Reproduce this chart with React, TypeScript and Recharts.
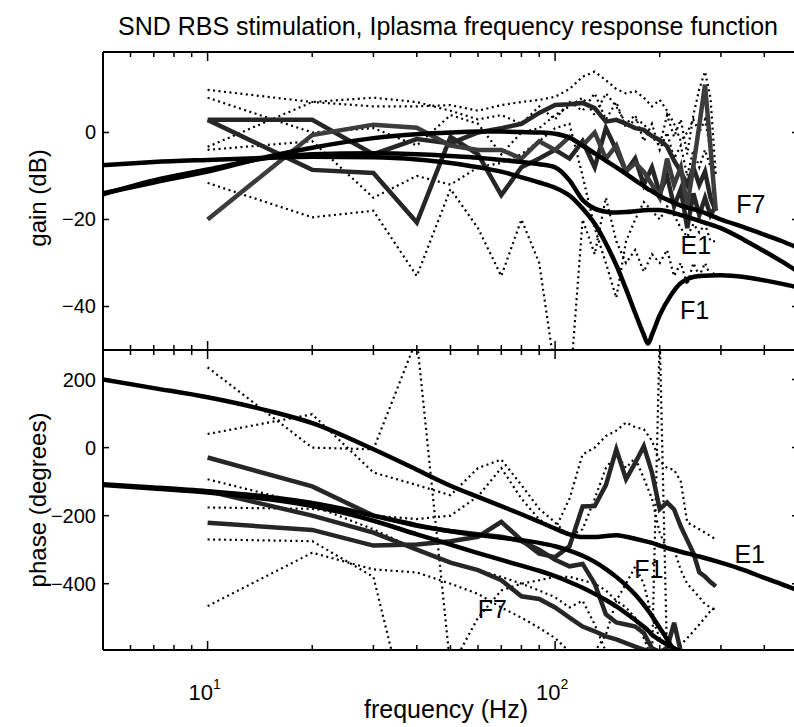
import React from "react";
import { LineChart, Line, XAxis, YAxis, ReferenceDot } from "recharts";

// measured frequencies (Hz) for the data traces
const freq = [10, 20, 30, 40, 50, 60, 70, 80, 90, 100, 110, 120, 130, 140, 150, 160, 170, 180, 190, 200, 210, 220, 230, 240, 250, 260, 270, 280, 290];
// model fit frequencies (Hz)
const fitFreq = [5, 7, 10, 15, 20, 30, 40, 50, 60, 70, 80, 90, 100, 110, 120, 130, 140, 150, 160, 170, 180, 185, 190, 200, 215, 230, 260, 300, 350, 400, 450, 500];

// gain (dB) data traces
const gainA = [2.9, 2.9, -5, -1.5, -2.5, 0, 1, 2, 4.5, 6.3, 6.5, 6.8, 5.6, 2.5, 2.9, 2, 1, 0.6, -0.8, -1.7, -3.2, -6.5, -9, -12, -8, -12, -9, -15, -18];
const gainB = [2.9, -8.6, -9.3, -20.7, -1, -5, -14.4, -8, -6, -4, -6, -2, -8, 1, -4, -9, -6, -12, -8, -14, -10, -17, -13, -22, -14, -19, -15, -19, -17];
const gainC = [-20, -0.6, 1.8, 1.1, -3, -4, -4, -6, -2, -4, -1, -3, 0, -6, -3, -9, -7, -9, -12, -15, -6, -12, -8, -17, -7.7, 1.7, 11, -3.5, -18];
// gain confidence bounds
const gainAUp = [9.8, 7, 6, 6, 6.3, 5, 6.3, 7, 7.5, 8.2, 10, 12.8, 14, 12, 10, 9, 9.5, 8, 6, 7.5, 5, 2, -2, 0, 3, 0, 3, -4, -10];
const gainALo = [-4, -2, -15, -10, -12, -8, -7, -5, -2, 1, 2, -10, -22, -30, -38, -25, -20, -16, -18, -20, -17, -19, -22, -24, -21, -23, -21, -25, -25];
const gainBUp = [8, 0, 1, -3, 4, 2, -5, 0, 1, 4, 6, 8, 4, 9, 6, 2, 4, -2, 2, -4, 0, -6, -3, -10, -4, -8, -4, -8, -7];
const gainBLo = [-11.6, -19.5, -18, -33, -13, -22, -33, -20, -30, -55, -60, -20, -28, -15, -25, -30, -27, -32, -28, -30, -27, -33, -30, -35, -30, -33, -30, -33, -32];
const gainCUp = [-3.3, 7, 8, 7, 5, 3, 4, 2, 6, 3, 7, 5, 9, 3, 7, 1, 3, 2, -1, -3, 4, -1, 3, -5, 4, 10, 14, 8, -10];

// gain model fits
const fitGainF1 = [-7.5, -6.8, -6.3, -5.8, -5.6, -5.7, -6.2, -7, -8, -9, -10.3, -11.5, -12.7, -14.5, -17.5, -21, -25.5, -30.5, -36, -41.5, -46.5, -48.5, -46.5, -42, -37.5, -34.6, -33, -32.8, -33.2, -34, -34.8, -35.6];
const fitGainE1 = [-14, -11.5, -9, -5.5, -3.5, -1.3, -0.4, 0, 0.2, 0.2, 0.1, 0, -0.3, -1.2, -3, -4.8, -6.5, -8, -9.5, -11, -12.3, -13, -13.5, -14.6, -15.8, -16.8, -18, -20, -21.8, -23.5, -25, -26.5];
const fitGainF7 = [-14.2, -11, -8.5, -5.8, -5, -4.8, -5, -5.4, -5.8, -6.3, -6.8, -7.3, -8, -11, -15.5, -17.5, -18.2, -18.4, -18.3, -18.1, -17.9, -17.8, -17.8, -17.8, -18.3, -19, -20.3, -22, -24.7, -27.3, -29.7, -32];

// phase (degrees) data traces
const phaseA = [-29, -114, -200, -230, -245, -255, -262, -275, -300, -330, -349, -342, -400, -490, -514, -520, -526, -545, -590, -600, -590, -515, -600, -640, -680, -700, -700, -700, -700];
const phaseB = [-128, -200, -250, -300, -338, -360, -390, -437, -445, -470, -500, -526, -540, -555, -564, -575, -585, -594, -600, -610, -630, -650, -660, -670, -680, -690, -700, -700, -700];
const phaseC = [-221, -242, -288, -285, -275, -262, -218, -272, -312, -322, -290, -173, -172, -110, -5, -93, -45, 4, -73, -181, -161, -182, -232, -272, -310, -367, -379, -395, -408];
// phase confidence bounds
const phaseAUp = [40, 98, -73, -110, -140, -60, -35, -110, -180, -220, -261, -240, -150, -60, -20, -60, -30, -90, -150, -250, -300, -300, -360, -400, -420, -440, -460, -470, -480];
const phaseALo = [-93, -170, -240, -300, -340, -360, -380, -400, -420, -440, -470, -450, -520, -600, -650, -700, -700, -700, -700, -700, -700, -700, -700, -700, -700, -700, -700, -700, -700];
const phaseBUp = [236, 0, -5, 320, -650, -500, -420, -400, -390, -380, -380, -390, -400, -420, -450, -470, -500, -560, -620, 330, -620, -600, -580, -560, -540, -520, -500, -480, -470];
const phaseBLo = [-466, -309, -358, -367, -400, -430, -470, -500, -530, -560, -600, -650, -700, -700, -700, -700, -700, -700, -700, -700, -700, -700, -700, -700, -700, -700, -700, -700, -700];
const phaseCUp = [-176, -180, -200, -210, -200, -143, -60, -150, -211, -240, -150, -20, 0, 34, 50, 74, 60, 54, 20, -40, -60, -65, -100, -220, -230, -240, -250, -260, -270];
const phaseCLo = [-270, -275, -380, -900, -700, -700, -700, -700, -700, -700, -700, -650, -600, -550, -450, -400, -350, -400, -500, -560, -600, -620, -650, -700, -700, -700, -700, -700, -700];

// phase model fits
const fitPhaseE1 = [200, 175, 148, 108, 72, -5, -65, -112, -145, -172, -196, -218, -238, -255, -263, -263, -260, -258, -262, -268, -274, -277, -280, -288, -298, -306, -320, -338, -360, -383, -402, -420];
const fitPhaseF1 = [-108, -117, -128, -145, -163, -200, -228, -246, -257, -265, -272, -280, -290, -303, -318, -336, -357, -380, -405, -432, -462, -478, -495, -530, -580, -630, -700, -760, -800, -840, -870, -900];
const fitPhaseF7 = [-110, -120, -132, -152, -172, -215, -255, -285, -310, -330, -347, -362, -378, -395, -412, -430, -448, -467, -487, -507, -527, -537, -550, -566, -585, -600, -640, -700, -760, -820, -870, -920];

const xTicks = [5, 6, 7, 8, 9, 10, 20, 30, 40, 50, 60, 70, 80, 90, 100, 200, 300, 400, 500];
const gainTicks = [-40, -20, 0];
const phaseTicks = [-400, -200, 0, 200];

const dataRows = freq.map((f, i) => ({
  f,
  gA: gainA[i], gB: gainB[i], gC: gainC[i],
  gAU: gainAUp[i], gAL: gainALo[i], gBU: gainBUp[i], gBL: gainBLo[i], gCU: gainCUp[i],
  pA: phaseA[i], pB: phaseB[i], pC: phaseC[i],
  pAU: phaseAUp[i], pAL: phaseALo[i], pBU: phaseBUp[i], pBL: phaseBLo[i], pCU: phaseCUp[i], pCL: phaseCLo[i],
}));
const fitRows = fitFreq.map((f, i) => ({
  f,
  gF1: fitGainF1[i], gE1: fitGainE1[i], gF7: fitGainF7[i],
  pF1: fitPhaseF1[i], pE1: fitPhaseE1[i], pF7: fitPhaseF7[i],
}));

const FONT = "'Liberation Sans', Arial, Helvetica, sans-serif";
const fmt = (v: number) => (v < 0 ? "\u2212" + Math.abs(v) : String(v));

const XTick = ({ x, y, payload, dir, label }: any) => {
  const v = payload.value;
  const major = v === 10 || v === 100;
  const len = major ? 9 : 5;
  return (
    <g>
      <line x1={x} x2={x} y1={y} y2={y + dir * len} stroke="#000" strokeWidth={1.5} />
      {label && major && (
        <text x={x - 3} y={y + 50} textAnchor="middle" fontSize={22} fontFamily={FONT} fill="#000">
          10
          <tspan dy={-11} fontSize={14}>
            {v === 10 ? "1" : "2"}
          </tspan>
        </text>
      )}
    </g>
  );
};

const YTick = ({ x, y, payload, dir, label }: any) => (
  <g>
    <line x1={x} x2={x + dir * 6} y1={y} y2={y} stroke="#000" strokeWidth={1.5} />
    {label && (
      <text x={x - 7} y={y + 7} textAnchor="end" fontSize={20} fontFamily={FONT} fill="#000">
        {fmt(payload.value)}
      </text>
    )}
  </g>
);

const axisLine = { stroke: "#000", strokeWidth: 2 };
const dotted = { stroke: "#000", strokeWidth: 2.2, strokeDasharray: "2 3.5", dot: false, isAnimationActive: false, type: "linear" as const };
const solid = { stroke: "#262626", strokeWidth: 4.5, dot: false, isAnimationActive: false, type: "linear" as const };
const fit = { stroke: "#000", strokeWidth: 4.5, dot: false, isAnimationActive: false, type: "monotone" as const };
const lbl = (value: string) => ({ value, position: "center" as const, fontSize: 25, fill: "#000", fontFamily: FONT });

const Axes = ({ domain, ticks, showX }: any) => [
  <XAxis key="xb" dataKey="f" type="number" scale="log" domain={[5, 500]} allowDataOverflow ticks={xTicks} interval={0}
    height={1} tickSize={0} tickMargin={0} tickLine={false} axisLine={axisLine}
    tick={(p: any) => <XTick {...p} dir={-1} label={showX} />} />,
  <XAxis key="xt" xAxisId="top" orientation="top" dataKey="f" type="number" scale="log" domain={[5, 500]} allowDataOverflow ticks={xTicks} interval={0}
    height={1} tickSize={0} tickMargin={0} tickLine={false} axisLine={axisLine}
    tick={(p: any) => <XTick {...p} dir={1} />} />,
  <YAxis key="yl" type="number" domain={domain} allowDataOverflow ticks={ticks} interval={0} width={1}
    tickSize={0} tickMargin={0} tickLine={false} axisLine={axisLine}
    tick={(p: any) => <YTick {...p} dir={1} label />} />,
  <YAxis key="yr" yAxisId="right" orientation="right" type="number" domain={domain} allowDataOverflow ticks={ticks} interval={0} width={1}
    tickSize={0} tickMargin={0} tickLine={false} axisLine={axisLine}
    tick={(p: any) => <YTick {...p} dir={-1} />} />,
];

const GainPanel = () => (
  <LineChart width={800} height={352} margin={{ top: 51, right: 1, bottom: 1, left: 102 }}>
    {Axes({ domain: [-50, 18.5], ticks: gainTicks, showX: false })}
    <Line data={dataRows} dataKey="gAU" {...dotted} />
    <Line data={dataRows} dataKey="gAL" {...dotted} />
    <Line data={dataRows} dataKey="gBU" {...dotted} />
    <Line data={dataRows} dataKey="gBL" {...dotted} />
    <Line data={dataRows} dataKey="gCU" {...dotted} />
    <Line data={dataRows} dataKey="gA" {...solid} />
    <Line data={dataRows} dataKey="gB" {...solid} />
    <Line data={dataRows} dataKey="gC" {...solid} stroke="#3c3c3c" />
    <Line data={fitRows} dataKey="gF1" {...fit} />
    <Line data={fitRows} dataKey="gE1" {...fit} />
    <Line data={fitRows} dataKey="gF7" {...fit} />
    <ReferenceDot x={366} y={-16.4} r={0} stroke="none" fill="none" label={lbl("F7")} />
    <ReferenceDot x={254} y={-26} r={0} stroke="none" fill="none" label={lbl("E1")} />
    <ReferenceDot x={252} y={-40.8} r={0} stroke="none" fill="none" label={lbl("F1")} />
  </LineChart>
);

const PhasePanel = () => (
  <LineChart width={800} height={400} margin={{ top: 9, right: 1, bottom: 89, left: 102 }}>
    {Axes({ domain: [-595, 287], ticks: phaseTicks, showX: true })}
    <Line data={dataRows} dataKey="pAU" {...dotted} />
    <Line data={dataRows} dataKey="pAL" {...dotted} />
    <Line data={dataRows} dataKey="pBU" {...dotted} />
    <Line data={dataRows} dataKey="pBL" {...dotted} />
    <Line data={dataRows} dataKey="pCU" {...dotted} />
    <Line data={dataRows} dataKey="pCL" {...dotted} />
    <Line data={dataRows} dataKey="pA" {...solid} />
    <Line data={dataRows} dataKey="pB" {...solid} />
    <Line data={dataRows} dataKey="pC" {...solid} />
    <Line data={fitRows} dataKey="pF1" {...fit} />
    <Line data={fitRows} dataKey="pE1" {...fit} />
    <Line data={fitRows} dataKey="pF7" {...fit} />
    <ReferenceDot x={363} y={-314} r={0} stroke="none" fill="none" label={lbl("E1")} />
    <ReferenceDot x={186} y={-358} r={0} stroke="none" fill="none" label={lbl("F1")} />
    <ReferenceDot x={66} y={-476} r={0} stroke="none" fill="none" label={lbl("F7")} />
  </LineChart>
);

const textStyle: React.CSSProperties = { position: "absolute", fontFamily: FONT, color: "#000", whiteSpace: "nowrap", lineHeight: 1 };

export default function App() {
  return (
    <div style={{ position: "absolute", left: 0, top: 0, width: 794, height: 727, overflow: "hidden", background: "#fff" }}>
      <div style={{ ...textStyle, left: 448, top: 14, fontSize: 25, transform: "translateX(-50%)" }}>
        SND RBS stimulation, Iplasma frequency response function
      </div>
      <div style={{ position: "absolute", left: 0, top: 0 }}>
        <GainPanel />
      </div>
      <div style={{ position: "absolute", left: 0, top: 340 }}>
        <PhasePanel />
      </div>
      <div style={{ ...textStyle, left: 38, top: 198, fontSize: 24, transform: "translate(-50%, -50%) rotate(-90deg)" }}>
        gain (dB)
      </div>
      <div style={{ ...textStyle, left: 38, top: 500, fontSize: 24, transform: "translate(-50%, -50%) rotate(-90deg)" }}>
        phase (degrees)
      </div>
      <div style={{ ...textStyle, left: 446, top: 697, fontSize: 25, transform: "translateX(-50%)" }}>
        frequency (Hz)
      </div>
    </div>
  );
}
